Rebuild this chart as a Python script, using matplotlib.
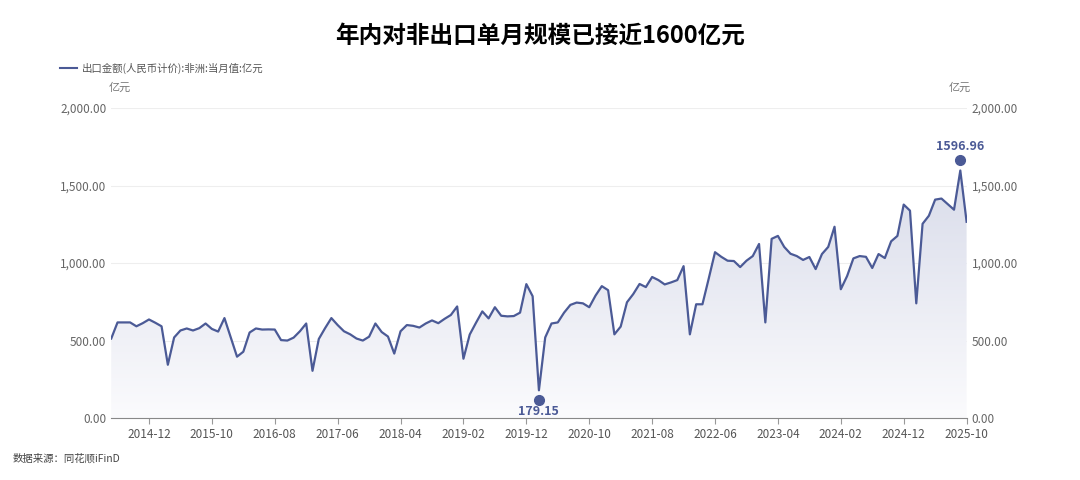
import matplotlib
matplotlib.use("Agg")
import matplotlib.pyplot as plt
import numpy as np
import pandas as pd
from matplotlib.patches import Polygon
from matplotlib.colors import LinearSegmentedColormap

plt.rcParams['font.family'] = ['Noto Sans CJK SC', 'DejaVu Sans']

start_month = "2014-06"
values = [513, 617, 617, 617, 592, 612, 636, 615, 592, 344, 520, 565, 578, 565, 580, 610, 575, 558, 645, 520,
          396, 428, 552, 578, 571, 572, 571, 503, 500, 519, 560, 610, 305, 510, 580, 645, 600, 560, 540, 513,
          500, 525, 610, 555, 526, 416, 560, 600, 595, 584, 610, 630, 612, 640, 665, 720, 383, 539, 615, 688,
          643, 715, 660, 656, 658, 680, 864, 786, 179.15, 520, 610, 617, 680, 730, 745, 740, 715, 790, 851, 825,
          540, 590, 747, 800, 865, 845, 910, 890, 862, 875, 890, 980, 540, 734, 734, 900, 1070, 1040, 1015, 1013,
          974, 1015, 1045, 1123, 617, 1156, 1175, 1104, 1060, 1045, 1020, 1039, 961, 1058, 1104, 1234, 831, 916, 1030, 1045,
          1040, 968, 1058, 1032, 1140, 1175, 1377, 1338, 740, 1253, 1305, 1409, 1416, 1380, 1344, 1596.96, 1266]
tick_labels = ["2014-12", "2015-10", "2016-08", "2017-06", "2018-04", "2019-02", "2019-12",
               "2020-10", "2021-08", "2022-06", "2023-04", "2024-02", "2024-12", "2025-10"]
yticks = [0, 500, 1000, 1500, 2000]

months = pd.period_range(start_month, periods=len(values), freq="M").strftime("%Y-%m").tolist()
x = np.arange(len(values))
y = np.array(values)
color = "#4b5a96"

fig = plt.figure(figsize=(10.8, 4.8), dpi=100)
ax = fig.add_axes([0.103, 0.129, 0.792, 0.646])
ax.set_xlim(0, len(values) - 1)
ax.set_ylim(0, 2000)

verts = [(0, 0)] + list(zip(x, y)) + [(x[-1], 0)]
poly = Polygon(verts, closed=True, facecolor="none", edgecolor="none")
ax.add_patch(poly)
grad = np.linspace(0.0, 1.0, 256).reshape(-1, 1)
cmap = LinearSegmentedColormap.from_list("g", ["#fbfbfd", "#d9dcea"])
im = ax.imshow(grad, extent=[0, x[-1], 0, y.max()], origin="lower", aspect="auto", cmap=cmap, zorder=1)
im.set_clip_path(poly)

ax.plot(x, y, color=color, lw=1.6, zorder=3)

imin = int(np.argmin(y)); imax = int(np.argmax(y))
ax.plot([imin], [y[imin] - 60], marker="o", ms=7, color=color, zorder=4)
ax.text(imin, y[imin] - 95, f"{y[imin]:.2f}", ha="center", va="top", color=color, fontsize=9, fontweight="bold")
ax.plot([imax], [y[imax] + 65], marker="o", ms=7, color=color, zorder=4)
ax.text(imax, y[imax] + 110, f"{y[imax]:.2f}", ha="center", va="bottom", color=color, fontsize=9, fontweight="bold")

ax.set_yticks(yticks)
ax.set_yticklabels([f"{v:,.2f}" for v in yticks], fontsize=8.5, color="#666666")
ax.grid(axis="y", color="#eeeeee", lw=0.8)
ax.set_axisbelow(True)
tick_pos = [months.index(t) for t in tick_labels]
ax.set_xticks(tick_pos)
ax.set_xticklabels(tick_labels, fontsize=8.5, color="#555555")
ax.tick_params(axis="x", length=4, color="#999999")
ax.tick_params(axis="y", length=0)
for s in ["top", "right", "left"]:
    ax.spines[s].set_visible(False)
ax.spines["bottom"].set_color("#888888")

ax2 = ax.twinx()
ax2.set_ylim(0, 2000)
ax2.set_yticks(yticks)
ax2.set_yticklabels([f"{v:,.2f}" for v in yticks], fontsize=8.5, color="#666666")
ax2.tick_params(axis="y", length=0)
for s in ["top", "right", "left", "bottom"]:
    ax2.spines[s].set_visible(False)

fig.text(0.5, 0.925, "年内对非出口单月规模已接近1600亿元", ha="center", va="center", fontsize=17, fontweight="bold")
fig.lines.append(plt.Line2D([0.056, 0.071], [0.858, 0.858], color=color, lw=1.5, transform=fig.transFigure))
fig.text(0.076, 0.858, "出口金额(人民币计价):非洲:当月值:亿元", ha="left", va="center", fontsize=7.5, color="#555555")
fig.text(0.111, 0.818, "亿元", ha="center", va="center", fontsize=8, color="#777777")
fig.text(0.889, 0.818, "亿元", ha="center", va="center", fontsize=8, color="#777777")
fig.text(0.012, 0.045, "数据来源：同花顺iFinD", ha="left", va="center", fontsize=7.5, color="#444444")

fig.savefig("out.png", dpi=100, facecolor="white")
